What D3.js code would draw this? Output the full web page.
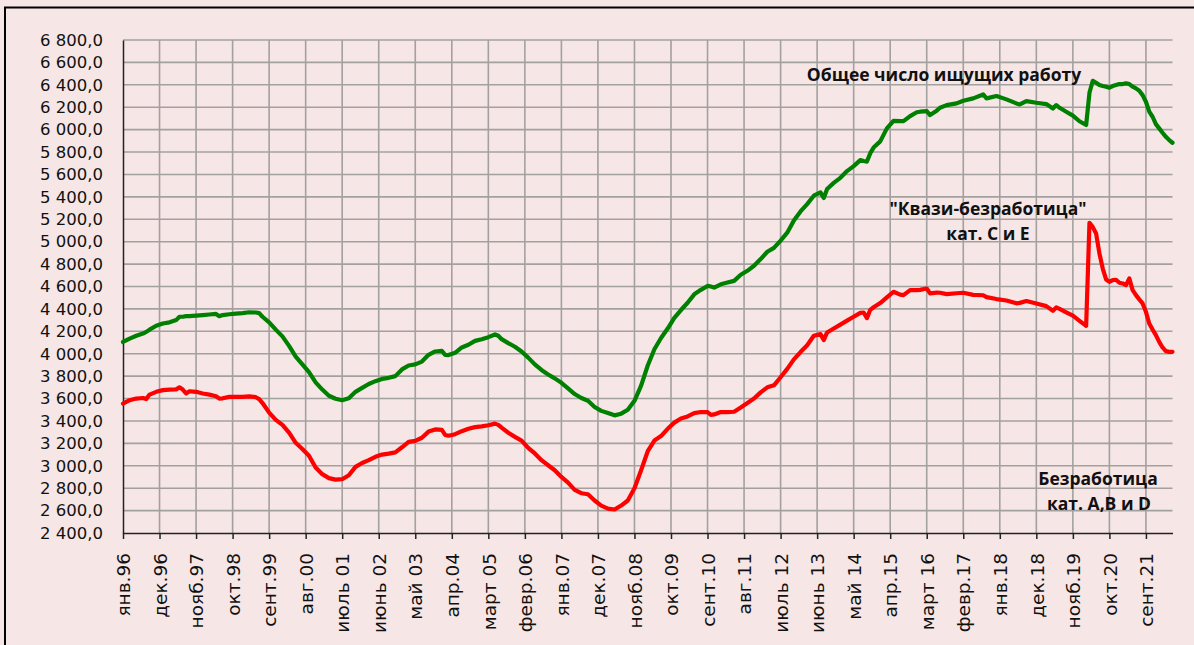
<!DOCTYPE html>
<html>
<head>
<meta charset="utf-8">
<script src="https://cdn.jsdelivr.net/npm/d3@7"></script>
<style>
  html, body { margin: 0; padding: 0; background: #f6e6e6; }
  svg { display: block; }
</style>
</head>
<body>
<svg id="chart" width="1194" height="645"></svg>
<script>
// ---------------------------------------------------------------------------
// Data. Month index = months since Jan 1996.
// ---------------------------------------------------------------------------
const months = [
  0, 2, 4, 6, 7, 8, 10, 12, 14, 16, 17, 18, 19, 20, 22, 24, 26, 28, 29, 30,
  32, 34, 36, 38, 40, 41, 42, 44, 46, 48, 50, 52, 54, 56, 58, 60, 62, 64, 66, 68,
  70, 72, 74, 76, 78, 80, 82, 84, 86, 88, 90, 92, 94, 96, 97, 98, 100, 102, 104, 106,
  108, 110, 112, 113, 114, 116, 118, 120, 122, 124, 126, 128, 130, 132, 134, 136, 138, 140, 142, 144,
  146, 148, 150, 152, 154, 156, 158, 160, 162, 164, 166, 168, 170, 172, 174, 176, 177, 178, 180, 182,
  184, 186, 188, 190, 192, 194, 196, 198, 200, 202, 204, 206, 208, 210, 211, 212, 214, 216, 218, 220,
  222, 223, 224, 225, 226, 228, 230, 232, 234, 235, 237, 239, 240, 242, 243, 245, 246, 248, 251, 253,
  256, 259, 260, 263, 266, 269, 270, 272, 275, 278, 280, 281, 282, 284, 286, 288, 290, 291, 292, 293,
  294, 295, 296, 297, 298, 299, 300, 301, 302, 303, 304, 305, 306, 307, 308, 309, 310, 311, 312, 313,
  314, 315, 316
];

// "Общее число ищущих работу" (green)
const totalSeekers = [
  4105, 4135, 4160, 4180, 4195, 4215, 4250, 4270, 4280, 4300, 4330, 4330, 4335, 4335, 4340, 4345, 4350, 4355, 4335, 4345,
  4352, 4358, 4362, 4370, 4368, 4362, 4330, 4280, 4215, 4155, 4070, 3975, 3905, 3835, 3745, 3680, 3625, 3598, 3585, 3603,
  3660, 3695, 3730, 3755, 3775, 3785, 3800, 3860, 3895, 3905, 3930, 3990, 4020, 4025, 3990, 3988, 4008, 4056, 4080, 4115,
  4130, 4148, 4172, 4160, 4130, 4095, 4062, 4020, 3965, 3905, 3855, 3815, 3780, 3740, 3690, 3640, 3605, 3580, 3525, 3490,
  3470, 3450, 3465, 3500, 3580, 3715, 3895, 4040, 4140, 4225, 4320, 4390, 4455, 4530, 4570, 4605, 4600, 4590, 4620, 4635,
  4650, 4705, 4740, 4785, 4845, 4910, 4945, 5010, 5080, 5190, 5270, 5335, 5410, 5440, 5390, 5470, 5525, 5570, 5630, 5674,
  5728, 5720, 5715, 5790, 5840, 5895, 6011, 6079, 6076, 6076, 6121, 6155, 6160, 6166, 6130, 6169, 6195, 6219, 6234, 6258,
  6279, 6314, 6279, 6300, 6270, 6234, 6225, 6255, 6240, 6228, 6189, 6219, 6195, 6160, 6125, 6075, 6041, 6330, 6436, 6418,
  6398, 6389, 6383, 6374, 6389, 6398, 6407, 6407, 6413, 6407, 6383, 6368, 6347, 6308, 6249, 6160, 6115, 6049, 6011, 5972,
  5936, 5907, 5883
];

// "Безработица кат. A,B и D" (red)
const unemployedABD = [
  3555, 3585, 3600, 3605, 3595, 3635, 3660, 3675, 3680, 3682, 3700, 3680, 3645, 3665, 3660, 3645, 3635, 3620, 3600, 3602,
  3615, 3615, 3615, 3620, 3612, 3595, 3560, 3475, 3410, 3365, 3295, 3205, 3150, 3090, 2985, 2925, 2890, 2876, 2880, 2915,
  2990, 3025, 3050, 3080, 3100, 3108, 3120, 3165, 3213, 3222, 3250, 3305, 3324, 3320, 3275, 3268, 3282, 3309, 3330, 3345,
  3352, 3362, 3376, 3365, 3340, 3295, 3258, 3225, 3160, 3110, 3050, 3005, 2960, 2900, 2850, 2785, 2755, 2746, 2690, 2645,
  2618, 2610, 2645, 2690, 2800, 2960, 3130, 3225, 3265, 3330, 3385, 3422, 3440, 3470, 3480, 3478, 3455, 3458, 3480, 3478,
  3482, 3520, 3560, 3600, 3655, 3700, 3718, 3790, 3865, 3950, 4015, 4075, 4160, 4175, 4122, 4190, 4225, 4260, 4295, 4330,
  4365, 4368, 4318, 4392, 4415, 4452, 4502, 4553, 4528, 4523, 4568, 4568, 4570, 4582, 4538, 4545, 4544, 4532, 4540, 4544,
  4525, 4522, 4505, 4488, 4475, 4450, 4454, 4470, 4448, 4425, 4383, 4413, 4400, 4370, 4340, 4294, 4249, 5169, 5130, 5073,
  4895, 4760, 4663, 4642, 4657, 4660, 4633, 4627, 4612, 4672, 4567, 4523, 4485, 4449, 4374, 4270, 4216, 4166, 4106, 4056,
  4023, 4017, 4017
];

// Category labels shown on the x axis, one every 11 months starting Jan 1996
const tickLabels = [
  "янв.96", "дек.96", "нояб.97", "окт.98", "сент.99", "авг.00", "июль 01", "июнь 02",
  "май 03", "апр.04", "март 05", "февр.06", "янв.07", "дек.07", "нояб.08", "окт.09",
  "сент.10", "авг.11", "июль 12", "июнь 13", "май 14", "апр.15", "март 16", "февр.17",
  "янв.18", "дек.18", "нояб.19", "окт.20", "сент.21"
];
const tickStep = 11;
const lastMonth = 316;   // май 2022

const yMin = 2400, yMax = 6800, yStep = 200;

// ---------------------------------------------------------------------------
// Layout
// ---------------------------------------------------------------------------
const W = 1194, H = 645;
const plot = { left: 123, right: 1172.5, top: 40, bottom: 533 };

const svg = d3.select('#chart');

svg.append('rect')
  .attr('x', 0).attr('y', 0).attr('width', W).attr('height', H)
  .attr('fill', '#f6e6e6');

// outer frame
svg.append('rect')
  .attr('x', 5).attr('y', 7.5).attr('width', W + 20).attr('height', H + 20)
  .attr('fill', 'none').attr('stroke', '#000').attr('stroke-width', 2);

const x = d3.scaleLinear().domain([0, lastMonth]).range([plot.left, plot.right]);
const y = d3.scaleLinear().domain([yMin, yMax]).range([plot.bottom, plot.top]);

const ruFormat = d3.formatLocale({
  decimal: ',', thousands: ' ', grouping: [3], currency: ['', '']
}).format(',.1f');

const yTicks = d3.range(yMin, yMax + 1, yStep);
const xTicks = tickLabels.map((_, i) => i * tickStep);

// gridlines
const grid = svg.append('g');
grid.selectAll('line.h')
  .data(yTicks.filter(v => v > yMin))
  .join('line')
  .attr('x1', plot.left).attr('x2', plot.right)
  .attr('y1', d => y(d)).attr('y2', d => y(d))
  .attr('stroke', '#a3a0a0').attr('stroke-width', 1.6);
grid.selectAll('line.v')
  .data(xTicks.filter(m => m > 0))
  .join('line')
  .attr('x1', d => x(d)).attr('x2', d => x(d))
  .attr('y1', plot.top).attr('y2', plot.bottom)
  .attr('stroke', '#a3a0a0').attr('stroke-width', 1.6);

// y axis
const yAxis = svg.append('g')
  .attr('transform', `translate(${plot.left},0)`)
  .call(d3.axisLeft(y).tickValues(yTicks).tickFormat(ruFormat).tickSize(0).tickPadding(20));
yAxis.select('.domain').attr('stroke', '#222').attr('stroke-width', 1.5);
yAxis.selectAll('text')
  .attr('font-family', 'DejaVu Sans, sans-serif')
  .attr('font-size', 16.5)
  .attr('fill', '#111');

// x axis
const xAxis = svg.append('g')
  .attr('transform', `translate(0,${plot.bottom})`)
  .call(d3.axisBottom(x).tickValues(xTicks).tickFormat((d, i) => tickLabels[i]).tickSize(6).tickSizeOuter(0));
xAxis.select('.domain').attr('stroke', '#222').attr('stroke-width', 1.5);
xAxis.selectAll('.tick line').attr('stroke', '#222').attr('stroke-width', 1.5);
xAxis.selectAll('text')
  .attr('font-family', 'DejaVu Sans, sans-serif')
  .attr('font-size', 18.5)
  .attr('fill', '#111')
  .attr('text-anchor', 'end')
  .attr('transform', 'rotate(-90)')
  .attr('x', -20)
  .attr('y', 0)
  .attr('dy', '0.36em');

// lines
const line = vals => d3.line()
  .x((d, i) => x(months[i]))
  .y(d => y(d))(vals);

svg.append('path')
  .attr('d', line(unemployedABD))
  .attr('fill', 'none')
  .attr('stroke', '#ff0000')
  .attr('stroke-width', 4.2)
  .attr('stroke-linejoin', 'round')
  .attr('stroke-linecap', 'round');

svg.append('path')
  .attr('d', line(totalSeekers))
  .attr('fill', 'none')
  .attr('stroke', '#008000')
  .attr('stroke-width', 4.2)
  .attr('stroke-linejoin', 'round')
  .attr('stroke-linecap', 'round');

// annotations
const notes = [
  { text: 'Общее число ищущих работу', x: 944, y: 81 },
  { text: '"Квази-безработица"', x: 988, y: 215 },
  { text: 'кат. С и Е', x: 988, y: 240 },
  { text: 'Безработица', x: 1098, y: 485 },
  { text: 'кат. А,В и D', x: 1099, y: 510 },
];
svg.append('g')
  .selectAll('text')
  .data(notes)
  .join('text')
  .attr('x', d => d.x)
  .attr('y', d => d.y)
  .attr('text-anchor', 'middle')
  .attr('font-family', 'Open Sans, sans-serif')
  .attr('font-weight', 700)
  .attr('font-size', 17.5)
  .attr('fill', '#111')
  .text(d => d.text);
</script>
</body>
</html>
